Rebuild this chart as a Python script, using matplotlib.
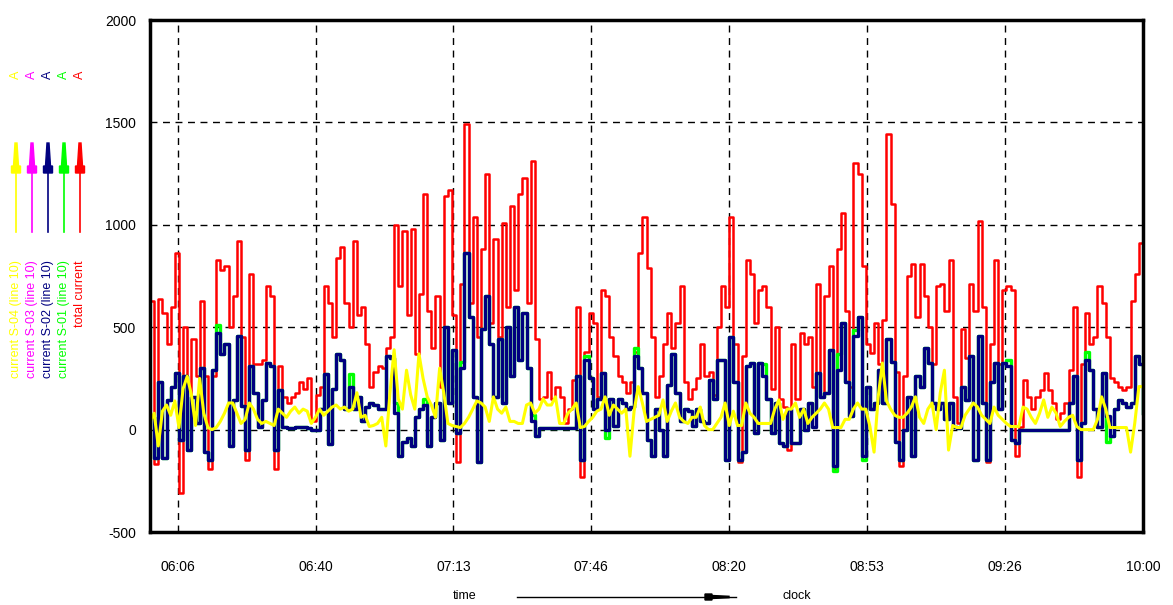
import matplotlib
matplotlib.use("Agg")
import matplotlib.pyplot as plt
from matplotlib.patches import Polygon
from matplotlib.lines import Line2D
import numpy as np

plt.rcParams['font.family'] = ['Liberation Sans', 'DejaVu Sans']
plt.rcParams['axes.unicode_minus'] = False

# one sample per minute, 06:00 -> 10:00
minutes = np.arange(0, 241)

total_current = [
    630, -170, 640, 570, 420, 600, 860, -310, 500, -100, 440, 260, 630, 260, -190, 260, 830, 780, 800, 500,
    650, 920, 450, -150, 760, 320, 320, 340, 700, 650, -190, 310, 160, 130, 160,
    180, 230, 200, 250, 40, 170, 210, 700, 620, 450, 840, 890, 620, 500, 920, 560, 600, 420, 210, 280,
    310, 300, 400, 450, 1000, 700, 970, 560, 980, 370, 660, 1150, 580, 400, 650,
    210, 1140, 1170, 560, -160, 710, 1490, 620, 1040, 450, 880, 1250, 520, 930, 450, 1010, 600, 1090, 680, 1150,
    1230, 620, 1310, 440, 150, 160, 280, 150, 210, 160, 30, 100, 240, 600,
    -230, 380, 570, 520, 160, 680, 650, 450, 360, 260, 230, 180, 230, 380, 860, 1040, 790, 450, 160, 260,
    420, 570, 400, 520, 700, 230, 150, 200, 250, 420, 260, 280, 170, 500,
    700, 600, 1040, 420, -160, 360, 830, 760, 520, 680, 700, 600, 200, 500, 150, 110, -100, 420, 150, 470,
    420, 450, 210, 710, 160, 650, 800, -190, 880, 1060, 580, 210, 1300, 1250,
    800, 420, 375, 520, 320, 535, 1445, 1100, 280, -180, 260, 750, 810, 550, 810, 650, 500, 320, 700, 710,
    580, 830, 160, 30, 490, 350, 710, 580, 1020, 600, -160, 420, 830, 320,
    680, 700, 680, -130, 15, 240, 160, 100, 160, 195, 275, 195, 130, 50, 80, 130, 290, 600, -230, 320,
    570, 420, 450, 700, 620, 450, 250, 230, 210, 195, 210, 630, 760, 910, 550,
]

s01 = [
    60, -140, 230, -140, 145, 210, 275, -50, 260, -100, 160, 30, 300, -110, -150, 290, 510, 370, 420, -80,
    145, 455, 115, -100, 310, 180, 15, 145, 325, 310, -100, 195, 15, 8, 8,
    15, 15, 15, 10, 0, 0, 100, 270, -70, 200, 370, 340, 100, 270, 100, 160, 40, 110, 130, 120,
    100, 100, 360, 350, 130, -130, -60, -40, -80, 60, 100, 150, -80, 60, 130,
    -50, 500, 130, 390, -15, 330, 860, 550, 160, -160, 490, 650, 420, 160, 440, 130, 500, 260, 600, 340,
    570, 300, 70, -30, 8, 8, 8, 8, 8, 8, 8, 8, 8, 260,
    -150, 360, 250, 100, 150, 275, -40, 150, 20, 150, 130, 100, 110, 400, 300, 180, -50, -130, 100, 0,
    -130, 220, 370, 180, 40, 100, 90, 20, 100, 40, 30, 240, 150, 340,
    340, -150, 450, 230, -150, -110, 310, 325, -15, 325, 320, 150, -15, 130, -65, -80, 100, -65, -65, 100,
    0, 130, 75, 275, 160, 180, 390, -200, 370, 520, 230, 65, 485, 550,
    -150, 210, 100, 130, 290, 130, 440, 330, -60, -150, 0, 160, -130, 260, 210, 400, 325, 130, 100, 130,
    50, 130, 15, 8, 210, 145, 360, -150, 455, 130, -150, 230, 325, 100,
    325, 340, -50, -65, 0, 0, 0, 0, 0, 0, 0, 0, 0, 0, 0, 0, 130, 260, -150, 30,
    380, 290, 100, 15, 275, -60, -30, 100, 145, 130, 110, 130, 360, 320, 80,
]

s02 = [
    60, -140, 230, -140, 145, 210, 275, -50, 260, -100, 160, 30, 300, -110, -150, 290, 470, 370, 420, -80,
    145, 455, 115, -100, 310, 180, 15, 145, 325, 310, -100, 195, 15, 8, 8,
    15, 15, 15, 10, 0, 0, 100, 270, -70, 200, 370, 340, 100, 210, 100, 160, 40, 110, 130, 120,
    100, 100, 360, 350, 80, -130, -60, -40, -80, 60, 100, 120, -80, 60, 130,
    -50, 500, 130, 390, -15, 300, 860, 550, 160, -160, 490, 650, 420, 160, 440, 130, 500, 260, 600, 340,
    570, 300, 40, -30, 8, 8, 8, 8, 8, 8, 8, 8, 8, 260,
    -150, 340, 250, 100, 150, 275, 0, 150, 20, 150, 130, 100, 110, 360, 300, 180, -50, -130, 100, 0,
    -130, 220, 370, 180, 40, 100, 90, 20, 100, 40, 30, 240, 150, 340,
    340, -150, 450, 230, -150, -110, 310, 325, -15, 325, 260, 150, -15, 130, -65, -80, 100, -65, -65, 100,
    0, 130, 15, 275, 160, 180, 390, -180, 290, 520, 230, 65, 455, 550,
    -130, 210, 100, 130, 290, 130, 440, 330, -60, -150, 0, 160, -130, 260, 210, 400, 325, 130, 100, 130,
    50, 130, 15, 8, 210, 145, 360, -150, 455, 130, -150, 230, 325, 100,
    325, 310, -50, -65, 0, 0, 0, 0, 0, 0, 0, 0, 0, 0, 0, 0, 130, 260, -150, 30,
    340, 290, 100, 15, 275, 65, -30, 100, 145, 130, 110, 130, 360, 320, 80,
]

s04 = [
    40, 80, -80, 90, 120, 70, 140, 10, 200, 260, 170, 20, 250, 80, 10, 0, 10, 40, 80, 130,
    130, 80, 30, 50, 130, 100, 50, 30, 40, 30, 20, 100, 80, 60, 90,
    110, 80, 100, 90, 30, 60, 100, 70, 90, 110, 120, 100, 110, 90, 100, 180, 60, 70, 15, 20,
    30, 60, -80, 180, 390, 150, 100, 290, 170, 100, 370, 250, 160, 120, 60,
    300, 180, 30, 20, 15, 10, 30, 60, 100, 140, 130, 110, 40, 160, 100, 80, 110, 40, 40, 30,
    30, 120, 130, 80, 100, 150, 120, 120, 160, 30, 30, 80, 100, 130,
    10, 15, 40, 60, 90, 100, 160, 70, 120, 100, 80, 100, -130, 90, 210, 130, 40, 50, 60, 70,
    145, 40, 90, 130, 60, 40, 30, 60, 60, 110, 20, 0, 0, 30,
    60, 130, 20, 90, 20, 20, 130, 80, 60, 30, 30, 30, 30, 100, 145, 50, 100, 100, 130, 60,
    100, 30, 60, 80, 100, 130, 100, 10, 10, 10, 50, 50, 100, 130,
    100, 100, 15, -110, 160, 325, 140, 100, 70, 60, 60, 80, 110, 160, 60, 30, 100, 130, 0, 180,
    290, -100, 20, 10, 10, 70, 100, 130, 110, 70, 50, 30, 110, 70,
    50, 30, 15, 15, 15, 110, 100, 60, 30, 80, 145, 60, 110, 80, 15, 40, 60, 70, 15, 0,
    0, 0, 0, 50, 160, 100, 10, 10, 10, 10, 10, -110, 30, 210, 210,
]

tick_pos = [6.667 + 33.333 * k for k in range(8)]
tick_labels = ['06:06', '06:40', '07:13', '07:46', '08:20', '08:53', '09:26', '10:00']
y_ticks = [-500, 0, 500, 1000, 1500, 2000]

legend_names = ['current S-04 (line 10)', 'current S-03 (line 10)', 'current S-02 (line 10)',
                'current S-01 (line 10)', 'total current']
legend_colors = ['#ffff00', '#ff00ff', '#000080', '#00ff00', '#ff0000']

W, H = 1173, 605
fig = plt.figure(figsize=(W / 100, H / 100), dpi=100)
ax = fig.add_axes([150 / W, 1 - 532 / H, 993 / W, 512 / H])

ax.plot(minutes, total_current, color='#ff0000', lw=1.8, drawstyle='steps-post', zorder=2)
ax.plot(minutes, s01, color='#00ff00', lw=2.4, drawstyle='steps-post', zorder=3)
ax.plot(minutes, s02, color='#000080', lw=2.4, drawstyle='steps-post', zorder=4)
ax.plot(minutes, s04, color='#ffff00', lw=2.2, zorder=5)

ax.set_xlim(0, 240)
ax.set_ylim(-500, 2000)
ax.set_xticks(tick_pos)
ax.set_xticklabels(tick_labels)
ax.set_yticks(y_ticks)
ax.tick_params(length=0, labelsize=10)
ax.tick_params(axis='x', pad=20)
ax.tick_params(axis='y', pad=10)
ax.grid(True, color='black', linestyle=(0, (5, 4)), linewidth=1, zorder=1)
ax.set_axisbelow(True)
for sp in ax.spines.values():
    sp.set_linewidth(2.5)
    sp.set_zorder(10)


def fx(x):
    return x / W


def fy(y):
    return 1 - y / H


# left legend: coloured arrows with rotated names
for i in range(5):
    x = 16 + 16 * i
    c = legend_colors[i]
    fig.add_artist(Line2D([fx(x), fx(x)], [fy(232), fy(160)], color=c, lw=1.2,
                          transform=fig.transFigure))
    head = [(x - 1, 143), (x + 1, 143), (x + 2.5, 166), (x + 4.5, 166), (x + 4.5, 173),
            (x - 4.5, 173), (x - 4.5, 166), (x - 2.5, 166)]
    fig.add_artist(Polygon([(fx(px), fy(py)) for px, py in head], closed=True, color=c,
                           transform=fig.transFigure))
    fig.text(fx(x), fy(260), legend_names[i], color=c, rotation=90, fontsize=9,
             ha='center', va='top')
    fig.text(fx(x), fy(75), 'A', color=c, rotation=90, fontsize=9, ha='center', va='center')

# bottom axis caption
fig.text(fx(465), fy(596), 'time', fontsize=9, ha='center', va='center')
fig.text(fx(797), fy(596), 'clock', fontsize=9, ha='center', va='center')
fig.add_artist(Line2D([fx(517), fx(736)], [fy(597), fy(597)], color='black', lw=1,
                      transform=fig.transFigure))
arrow = [(705, 594), (712, 594), (712, 595.5), (729, 596.3), (729, 597.7), (712, 598.5),
         (712, 600), (705, 600)]
fig.add_artist(Polygon([(fx(px), fy(py)) for px, py in arrow], closed=True, color='black',
                       transform=fig.transFigure))

fig.savefig('out.png', dpi=100)
